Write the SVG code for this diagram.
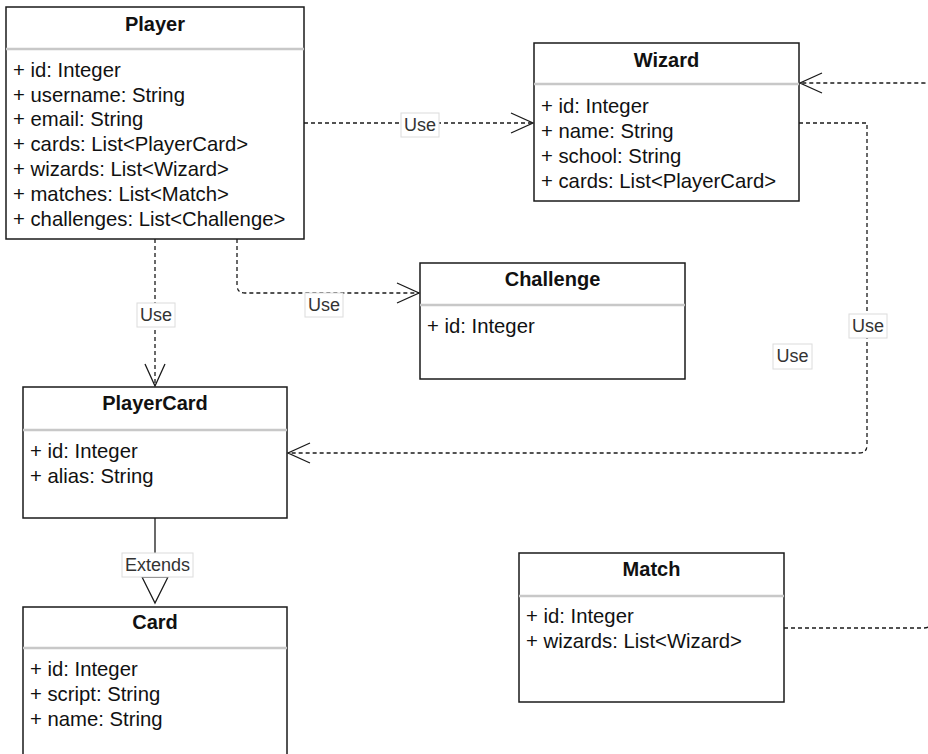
<svg xmlns="http://www.w3.org/2000/svg" width="928" height="754" viewBox="0 0 928 754">
  <style>
    .box { fill: #ffffff; stroke: #1a1a1a; stroke-width: 1.5; }
    .sep { stroke: #c8c8c8; stroke-width: 2.5; }
    .title { font-family: "Liberation Sans", Arial, sans-serif; font-size: 20px; font-weight: bold; fill: #111; text-anchor: middle; }
    .attr { font-family: "Liberation Sans", Arial, sans-serif; font-size: 20.3px; fill: #111; }
    .dep { fill: none; stroke: #1a1a1a; stroke-width: 1.3; stroke-dasharray: 4 3; }
    .solid { fill: none; stroke: #1a1a1a; stroke-width: 1.3; }
    .lblbox { fill: #ffffff; stroke: #dcdcdc; stroke-width: 1; }
    .lbl { font-family: "Liberation Sans", Arial, sans-serif; font-size: 18px; fill: #333; text-anchor: middle; }
  </style>
  <defs>
    <marker id="open" viewBox="0 0 24 22" refX="23" refY="11" markerWidth="24" markerHeight="22" markerUnits="userSpaceOnUse" orient="auto">
      <path d="M1,1 L23,11 L1,21" fill="none" stroke="#1a1a1a" stroke-width="1.3"/>
    </marker>
  </defs>

  <!-- connectors -->
  <g id="connectors">
    <path class="dep" d="M304,123 H533" marker-end="url(#open)"/>
    <path class="dep" d="M155,239 V386" marker-end="url(#open)"/>
    <path class="dep" d="M237,239 V285 Q237,293 245,293 H419" marker-end="url(#open)"/>
    <path class="dep" d="M799,123 H867 V445 Q867,453 859,453 H288" marker-end="url(#open)"/>
    <path class="dep" d="M784,628 H924 Q932,628 932,620 V91 Q932,83 924,83 H800" marker-end="url(#open)"/>
    <path class="solid" d="M155,518 V577"/>
    <polygon points="142,577 168,577 155,603" fill="#ffffff" stroke="#1a1a1a" stroke-width="1.3"/>

    <rect class="lblbox" x="401" y="113" width="38" height="24"/>
    <text class="lbl" x="420" y="131">Use</text>
    <rect class="lblbox" x="137" y="303" width="38" height="24"/>
    <text class="lbl" x="156" y="321">Use</text>
    <rect class="lblbox" x="305" y="293" width="38" height="24"/>
    <text class="lbl" x="324" y="311">Use</text>
    <rect class="lblbox" x="849" y="314" width="38" height="24"/>
    <text class="lbl" x="868" y="332">Use</text>
    <rect class="lblbox" x="773" y="344" width="39" height="25"/>
    <text class="lbl" x="792.500" y="362">Use</text>
    <rect class="lblbox" x="122" y="553" width="71" height="24"/>
    <text class="lbl" x="157.500" y="571">Extends</text>
  </g>

  <!-- classes -->
  <g id="player">
    <rect class="box" x="6" y="7" width="298" height="232"/>
    <line class="sep" x1="6" y1="49" x2="304" y2="49"/>
    <text class="title" x="155" y="31">Player</text>
    <text class="attr" x="13" y="77">+ id: Integer</text>
    <text class="attr" x="13" y="102">+ username: String</text>
    <text class="attr" x="13" y="126">+ email: String</text>
    <text class="attr" x="13" y="151">+ cards: List&lt;PlayerCard&gt;</text>
    <text class="attr" x="13" y="176">+ wizards: List&lt;Wizard&gt;</text>
    <text class="attr" x="13" y="201">+ matches: List&lt;Match&gt;</text>
    <text class="attr" x="13" y="226">+ challenges: List&lt;Challenge&gt;</text>
  </g>

  <g id="wizard">
    <rect class="box" x="534" y="43" width="265" height="158"/>
    <line class="sep" x1="534" y1="84" x2="799" y2="84"/>
    <text class="title" x="666.500" y="67">Wizard</text>
    <text class="attr" x="541" y="113">+ id: Integer</text>
    <text class="attr" x="541" y="138">+ name: String</text>
    <text class="attr" x="541" y="163">+ school: String</text>
    <text class="attr" x="541" y="188">+ cards: List&lt;PlayerCard&gt;</text>
  </g>

  <g id="challenge">
    <rect class="box" x="420" y="263" width="265" height="116"/>
    <line class="sep" x1="420" y1="305" x2="685" y2="305"/>
    <text class="title" x="552.500" y="286">Challenge</text>
    <text class="attr" x="427" y="333">+ id: Integer</text>
  </g>

  <g id="playercard">
    <rect class="box" x="23" y="387" width="264" height="131"/>
    <line class="sep" x1="23" y1="430" x2="287" y2="430"/>
    <text class="title" x="155" y="410">PlayerCard</text>
    <text class="attr" x="30" y="458">+ id: Integer</text>
    <text class="attr" x="30" y="483">+ alias: String</text>
  </g>

  <g id="card">
    <rect class="box" x="23" y="607" width="264" height="160"/>
    <line class="sep" x1="23" y1="648" x2="287" y2="648"/>
    <text class="title" x="155" y="629">Card</text>
    <text class="attr" x="30" y="676">+ id: Integer</text>
    <text class="attr" x="30" y="701">+ script: String</text>
    <text class="attr" x="30" y="726">+ name: String</text>
  </g>

  <g id="match">
    <rect class="box" x="519" y="553" width="265" height="149"/>
    <line class="sep" x1="519" y1="596" x2="784" y2="596"/>
    <text class="title" x="651.500" y="576">Match</text>
    <text class="attr" x="526" y="623">+ id: Integer</text>
    <text class="attr" x="526" y="648">+ wizards: List&lt;Wizard&gt;</text>
  </g>
</svg>
